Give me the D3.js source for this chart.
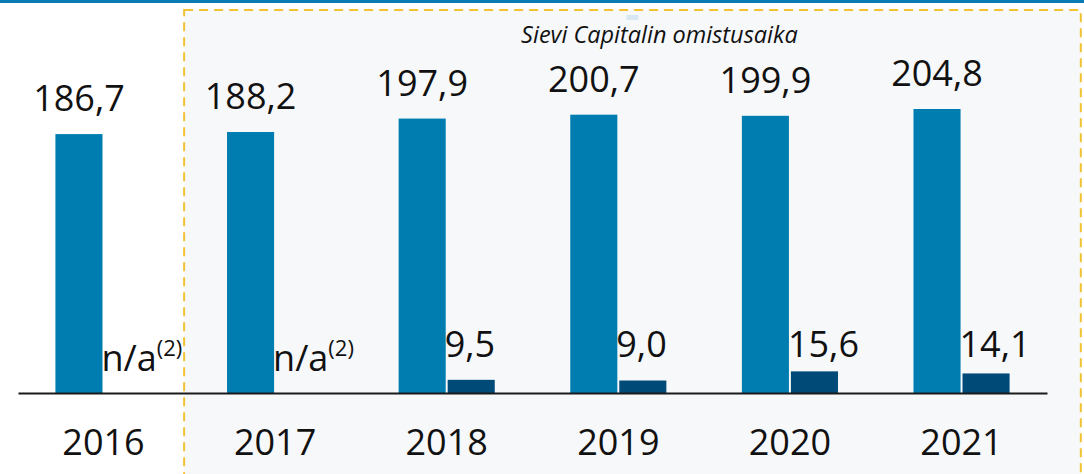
<!DOCTYPE html>
<html>
<head>
<meta charset="utf-8">
<script src="https://cdn.jsdelivr.net/npm/d3@7"></script>
<style>
  html, body { margin: 0; padding: 0; background: #fff; }
  svg { display: block; font-family: 'Open Sans', 'Noto Sans', sans-serif; }
</style>
</head>
<body>
<svg id="chart" width="1084" height="474"></svg>
<script>
// data
const years = ['2016', '2017', '2018', '2019', '2020', '2021'];
const mainValues = [186.7, 188.2, 197.9, 200.7, 199.9, 204.8];
const subValues = [null, null, 9.5, 9.0, 15.6, 14.1];
const missingLabel = 'n/a';
const missingNote = '(2)';
const ownershipYears = ['2017', '2018', '2019', '2020', '2021'];
const ownershipLabel = 'Sievi Capitalin omistusaika';

const fi = d3.formatLocale({decimal: ',', thousands: ' ', grouping: [3], currency: ['', ' €']});
const fmt = fi.format('.1f');

let svg = d3.select('#chart');
const W = 1084, H = 474;

let x = d3.scaleBand().domain(years).range([18, 1047]).paddingInner(0.44).paddingOuter(0.218);
let xSeries = d3.scaleBand().domain(['main', 'sub']).range([0, x.bandwidth()]).paddingInner(0.04);
let y = d3.scaleLinear().domain([0, 204.8]).range([393, 109]);

// top stripe
svg.append('rect').attr('x', 0).attr('y', 0).attr('width', W).attr('height', 3).attr('fill', '#0a7ab2');

//ownership box (dashed)
let boxLeft = x(ownershipYears[0]) - x.step() * 0.25;
let boxRight = x(ownershipYears[ownershipYears.length - 1]) + x.bandwidth() + x.step() * 0.415;
let boxTop = 10;
svg.append('rect').attr('x', boxLeft).attr('y', boxTop)
    .attr('width', boxRight - boxLeft).attr('height', H + 20)
    .attr('fill', '#f7f8fa').attr('stroke', '#f1c232').attr('stroke-width', 2)
    .attr('stroke-dasharray', '9,6');

let boxMid = (boxLeft + boxRight) / 2;
svg.append('rect').attr('x', boxMid - 6).attr('y', 15).attr('width', 12).attr('height', 5).attr('fill', '#d8e8f3');
svg.append('text').attr('x', boxMid + 27).attr('y', 43).attr('text-anchor', 'middle')
    .style('font-size', '23.5px').style('font-style', 'italic').attr('fill', '#111')
    .text(ownershipLabel);

// bars
let groups = svg.selectAll('g.year').data(years).enter().append('g').classed('year', true)
    .attr('transform', d => 'translate(' + x(d) + ',0)');

groups.append('rect')
    .attr('x', xSeries('main')).attr('width', xSeries.bandwidth())
    .attr('y', (d, i) => y(mainValues[i])).attr('height', (d, i) => y(0) - y(mainValues[i]))
    .attr('fill', '#007db0');

groups.filter((d, i) => subValues[i] !== null).append('rect')
    .attr('x', xSeries('sub')).attr('width', xSeries.bandwidth())
    .attr('y', d => y(subValues[years.indexOf(d)]))
    .attr('height', d => y(0) - y(subValues[years.indexOf(d)]))
    .attr('fill', '#004a78');

// labels
groups.append('text')
    .attr('x', xSeries('main') + xSeries.bandwidth() / 2)
    .attr('y', (d, i) => y(mainValues[i]) - 23)
    .attr('text-anchor', 'middle').style('font-size', '36px').attr('fill', '#111')
    .text((d, i) => fmt(mainValues[i]));

groups.filter((d, i) => subValues[i] !== null).append('text')
    .attr('x', xSeries('sub') - 3).attr('y', y(0) - 36)
    .style('font-size', '36px').attr('fill', '#111')
    .text(d => fmt(subValues[years.indexOf(d)]));

let na = groups.filter((d, i) => subValues[i] === null).append('text')
    .attr('x', xSeries('sub') - 3).attr('y', y(0) - 22)
    .style('font-size', '36px').attr('fill', '#111');
na.append('tspan').text(missingLabel);
na.append('tspan').attr('dy', -15).style('font-size', '22px').text(missingNote);

// axis
let xAxis = d3.axisBottom(x).tickSize(0).tickPadding(36);
let axisG = svg.append('g').attr('transform', 'translate(0,' + y(0) + ')').call(xAxis);
axisG.select('.domain').attr('stroke', '#1a1a1a').attr('stroke-width', 2);
axisG.selectAll('text').style('font-size', '36px').attr('fill', '#111')
    .style('font-family', "'Open Sans', 'Noto Sans', sans-serif").attr('dy', '0.71em');
</script>
</body>
</html>
